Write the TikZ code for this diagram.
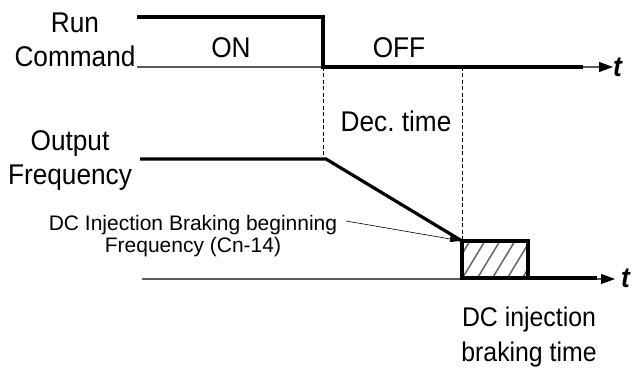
\documentclass[tikz,border=0pt]{standalone}
\usepackage{fontspec}
\setmainfont{Liberation Sans}
\newfontfamily\lblfont{Liberation Sans}[FakeStretch=0.92]
\usetikzlibrary{arrows.meta, positioning}

\tikzset{
  timeaxis/.style={draw=black!65, line width=1.1pt, -{Triangle[length=14pt,width=10pt,color=black]}},
  signal/.style={line width=3.2pt},
  marker/.style={line width=0.8pt, dash pattern=on 4pt off 2.5pt},
  hatch/.style={draw=black!60, line width=1.5pt},
  biglabel/.style={font=\lblfont\fontsize{28.5}{34}\selectfont, align=center, inner sep=0pt},
  smalllabel/.style={font=\fontsize{21}{22}\selectfont, align=center, inner sep=0pt},
}

\begin{document}
\begin{tikzpicture}[x=1pt, y=-1pt]
  \useasboundingbox (0,0) rectangle (634,374);

  % corners of the wave forms
  \coordinate (runhigh) at (137,17);
  \coordinate (runoff)  at (323,17);
  \coordinate (runlow)  at (323,67);
  \coordinate (runend)  at (583,67);
  \coordinate (outhigh) at (140,159);
  \coordinate (decbeg)  at (326,159);
  \coordinate (dcbeg)   at (462,241);
  \coordinate (dcend)   at (528,278);
  \coordinate (outend)  at (597,278);

  % time axes
  \coordinate (topaxis0) at (137,67);
  \coordinate (topaxis1) at (613,67);
  \coordinate (botaxis0) at (142,279);
  \coordinate (botaxis1) at (615,279);
  \draw[timeaxis] (topaxis0) -- (topaxis1);
  \draw[timeaxis] (botaxis0) -- (botaxis1);
  \node[biglabel, anchor=base west] (ttop) at (613,77) {\bfseries\itshape t};
  \node[biglabel, anchor=base west] (tbot) at (621,287) {\bfseries\itshape t};

  % dashed time marks
  \draw[marker] (runlow) -- (323,157);
  \draw[marker] (462,67) -- (dcbeg);

  % run command
  \draw[signal] (runhigh) -- (runoff) -- (runlow) -- (runend);

  % output frequency with DC braking block
  \begin{scope}
    \clip (dcbeg) rectangle (dcend);
    \foreach \x in {430,445,...,540}
      \draw[hatch] (\x,282) -- ++(28,-46);
  \end{scope}
  \draw[signal] (outhigh) -- (decbeg) -- (dcbeg);
  \draw[signal] (dcbeg) rectangle (dcend);
  \draw[signal] (dcend) -- (outend);

  % labels
  \node[biglabel] (runlbl) at (75,40) {Run\\Command};
  \node[biglabel] (onlbl)  at (231,48) {ON};
  \node[biglabel] (offlbl) at (399,48) {OFF};
  \node[biglabel] (declbl) at (396,121) {Dec.~time};
  \node[biglabel] (outlbl) at (70,161) {Output\\Frequency};
  \node[smalllabel] (beglbl) at (193,236) {DC Injection Braking beginning\\Frequency (Cn-14)};
  \node[biglabel, font=\lblfont\fontsize{27}{35}\selectfont] (timelbl) at (529,337) {DC injection\\braking time};

  \coordinate (begtip) at (346,221);
  \draw[line width=0.6pt, -{Triangle[length=11pt,width=6pt]}, shorten >=1pt] (begtip) -- (dcbeg);
\end{tikzpicture}
\end{document}
